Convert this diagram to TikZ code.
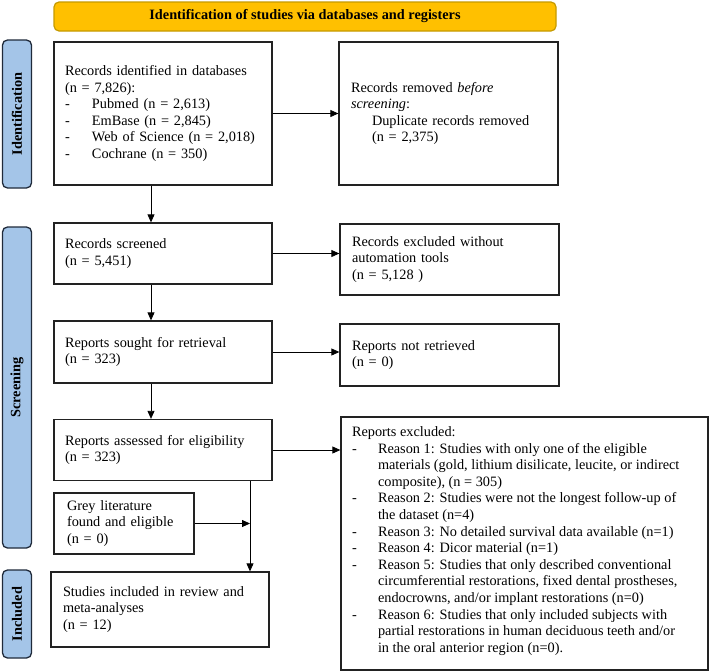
\documentclass[tikz,border=0pt]{standalone}
\usepackage{fontspec}
\setmainfont{Liberation Serif}
\usetikzlibrary{arrows.meta,calc}
\definecolor{bannerfill}{HTML}{FFC000}
\definecolor{bannerline}{HTML}{C59A00}
\definecolor{sidefill}{HTML}{A4C5E8}
\definecolor{sideline}{HTML}{1F2A3A}
\definecolor{boxline}{HTML}{222222}
\newcommand{\reasonitem}[1]{\hangindent=26pt\hangafter=1\noindent\makebox[26pt][l]{-}#1\par}
\begin{document}
\begin{tikzpicture}[x=1pt,y=-1pt,
  font=\fontsize{14.3}{16.6}\selectfont,
  box/.style={draw=boxline, line width=1.3pt, fill=white, align=left, inner xsep=11pt, inner ysep=0pt, anchor=center},
  side/.style={draw=sideline, line width=1.3pt, fill=sidefill, rounded corners=5pt, inner sep=0pt, minimum width=29pt, anchor=center},
  sidetext/.style={rotate=90, font=\fontsize{14.3}{16.6}\selectfont\bfseries},
  arr/.style={line width=0.8pt, -{Triangle[length=8pt,width=7pt]}}
]
\useasboundingbox (0,0) rectangle (710,672);

% banner
\node[draw=bannerline, line width=1.2pt, fill=bannerfill, rounded corners=5pt, minimum width=502pt, minimum height=29pt, inner sep=0pt, font=\fontsize{14.3}{16.6}\selectfont\bfseries] (banner) at (305,16.5) {Identification of studies via databases and registers};

% side bars
\node[side, minimum height=148pt] (sideId) at (17,114) {};
\node[sidetext] (sideIdT) at (sideId.center) {Identification};
\node[side, minimum height=321pt] (sideScr) at (17,387.5) {};
\node[sidetext] (sideScrT) at (sideScr.center) {Screening};
\node[side, minimum height=88pt] (sideInc) at (17,614) {};
\node[sidetext] (sideIncT) at (sideInc.center) {Included};

% boxes
\node[box, text width=196pt, minimum width=218pt, minimum height=143pt] (rec) at (163,113.5) {Records identified in databases\\(n = 7,826):\\
\makebox[27pt][l]{-}Pubmed (n = 2,613)\\
\makebox[27pt][l]{-}EmBase (n = 2,845)\\
\makebox[27pt][l]{-}Web of Science (n = 2,018)\\
\makebox[27pt][l]{-}Cochrane (n = 350)};

\node[box, inner xsep=12pt, text width=195pt, minimum width=219pt, minimum height=143pt] (rem) at (448.5,113.5) {Records removed \textit{before}\\\textit{screening}:\\
\hspace*{21pt}Duplicate records removed\\
\hspace*{21pt}(n = 2,375)\\[12pt]};

\node[box, text width=196pt, minimum width=218pt, minimum height=61pt] (scr) at (163,253.5) {Records screened\\(n = 5,451)};
\node[box, inner xsep=12pt, text width=195pt, minimum width=219pt, minimum height=71pt] (exc) at (449.5,259.5) {Records excluded without\\automation tools\\(n = 5,128 )};

\node[box, text width=196pt, minimum width=218pt, minimum height=62pt] (sou) at (163,352) {Reports sought for retrieval\\(n = 323)};
\node[box, inner xsep=12pt, text width=195pt, minimum width=219pt, minimum height=62pt] (nre) at (449.5,355) {Reports not retrieved\\(n = 0)};

\node[box, text width=196pt, minimum width=218pt, minimum height=61pt] (ass) at (163,450) {Reports assessed for eligibility\\(n = 323)};

\node[draw=boxline, line width=1.3pt, fill=white, inner xsep=11pt, inner ysep=0pt, minimum width=367pt, minimum height=253pt, anchor=center] (rex) at (524.5,543.5) {\begin{minipage}[c]{345pt}\fontsize{14.3}{16.6}\selectfont\raggedright\parindent=0pt
Reports excluded:\par
\reasonitem{Reason 1: Studies with only one of the eligible\newline materials (gold, lithium disilicate, leucite, or indirect\newline composite), (n = 305)}
\reasonitem{Reason 2: Studies were not the longest follow-up of\newline the dataset (n=4)}
\reasonitem{Reason 3: No detailed survival data available (n=1)}
\reasonitem{Reason 4: Dicor material (n=1)}
\reasonitem{Reason 5: Studies that only described conventional\newline circumferential restorations, fixed dental prostheses,\newline endocrowns, and/or implant restorations (n=0)}
\reasonitem{Reason 6: Studies that only included subjects with\newline partial restorations in human deciduous teeth and/or\newline in the oral anterior region (n=0).}
\vspace{5pt}
\end{minipage}};

\node[box, inner xsep=13pt, text width=114pt, minimum width=140pt, minimum height=61pt] (grey) at (124,523.5) {Grey literature\\found and eligible\\(n = 0)};

\node[box, inner xsep=12pt, text width=194pt, minimum width=218pt, minimum height=75pt] (inc) at (160,609.5) {Studies included in review and\\meta-analyses\\(n = 12)};

% column coordinates
\coordinate (colA) at (151,0);
\coordinate (colB) at (250,0);

% connectors
\draw[arr] (rec.east) -- (rem.west);
\draw[arr] (scr.east) -- (scr.east -| exc.west);
\draw[arr] (sou.east) -- (sou.east -| nre.west);
\draw[arr] (ass.east) -- (ass.east -| rex.west);
\draw[arr] (rec.south -| colA) -- (scr.north -| colA);
\draw[arr] (scr.south -| colA) -- (sou.north -| colA);
\draw[arr] (sou.south -| colA) -- (ass.north -| colA);
\draw[arr] (ass.south -| colB) -- (inc.north -| colB);
\draw[arr] (grey.east) -- (grey.east -| colB);
\end{tikzpicture}
\end{document}
